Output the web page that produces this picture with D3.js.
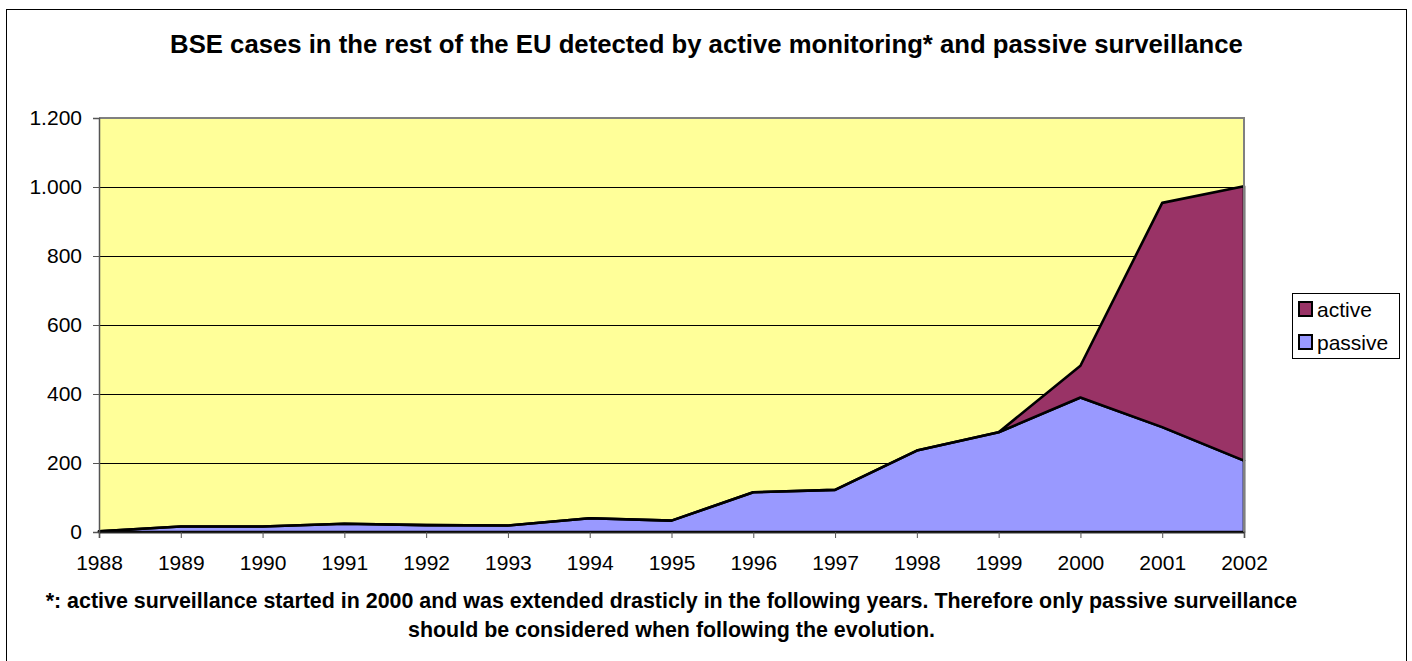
<!DOCTYPE html>
<html>
<head>
<meta charset="utf-8">
<script src="https://cdn.jsdelivr.net/npm/d3@7"></script>
<style>
  html, body { margin: 0; padding: 0; background: #fff; }
  svg { display: block; font-family: "Liberation Sans", Arial, sans-serif; }
</style>
</head>
<body>
<div id="chart"></div>
<script>
// values
var years = [1988, 1989, 1990, 1991, 1992, 1993, 1994, 1995, 1996, 1997, 1998, 1999, 2000, 2001, 2002];
var passive = [2, 16, 16, 24, 20, 19, 40, 33, 115, 122, 236, 289, 390, 304, 207];
var active = [0, 0, 0, 0, 0, 0, 0, 0, 0, 0, 0, 0, 92, 650, 795];
var yTicks = [0, 200, 400, 600, 800, 1000, 1200];
var seriesNames = ["passive", "active"];
var seriesColors = { passive: "#9999FF", active: "#993366" };

var title = "BSE cases in the rest of the EU detected by active monitoring* and passive surveillance";
var footnote = [
  "*: active surveillance started in 2000 and was extended drasticly in the following years. Therefore only passive surveillance",
  "should be considered when following the evolution."
];

var W = 1412, H = 661;
var plot = { left: 99, right: 1244, top: 118, bottom: 532 };
var font = "'Liberation Sans', Arial, sans-serif";

var svg = d3.select("#chart").append("svg")
  .attr("width", W).attr("height", H);

// outer chart border (bottom runs off the picture)
svg.append("rect")
  .attr("x", 6.5).attr("y", 9.5)
  .attr("width", 1400).attr("height", 700)
  .attr("fill", "#fff").attr("stroke", "#000").attr("stroke-width", 1);

var x = d3.scaleLinear().domain([years[0], years[years.length - 1]]).range([plot.left, plot.right]);
var y = d3.scaleLinear().domain([0, 1200]).range([plot.bottom, plot.top]);

// plot background
svg.append("rect")
  .attr("x", plot.left).attr("y", plot.top)
  .attr("width", plot.right - plot.left).attr("height", plot.bottom - plot.top)
  .attr("fill", "#FFFF99");

// gridlines
svg.append("g").selectAll("line").data(yTicks.filter(function (d) { return d > 0 && d < 1200; }))
  .join("line")
  .attr("x1", plot.left).attr("x2", plot.right)
  .attr("y1", function (d) { return Math.round(y(d)) + 0.5; })
  .attr("y2", function (d) { return Math.round(y(d)) + 0.5; })
  .attr("stroke", "#000").attr("stroke-width", 1);

// stacked areas
var rows = years.map(function (yr, i) { return { year: yr, passive: passive[i], active: active[i] }; });
var layers = d3.stack().keys(seriesNames)(rows);

var area = d3.area()
  .x(function (d) { return x(d.data.year); })
  .y0(function (d) { return y(d[0]); })
  .y1(function (d) { return y(d[1]); });

svg.append("g").selectAll("path").data(layers)
  .join("path")
  .attr("d", area)
  .attr("fill", function (d) { return seriesColors[d.key]; })
  .attr("stroke", "#000")
  .attr("stroke-width", 2.6)
  .attr("stroke-linejoin", "round");

// plot frame (top/right grey)
svg.append("path")
  .attr("d", "M" + plot.left + "," + plot.top + "H" + plot.right + "V" + plot.bottom)
  .attr("fill", "none").attr("stroke", "#808080").attr("stroke-width", 2);

// y axis
var yAxis = svg.append("g").attr("transform", "translate(" + plot.left + ",0)")
  .call(d3.axisLeft(y).tickValues(yTicks).tickSize(6).tickPadding(11)
    .tickFormat(function (d) { return d3.format(",")(d).replace(/,/g, "."); }));
yAxis.select(".domain").attr("stroke", "#555").attr("stroke-width", 1.5);
yAxis.selectAll(".tick line").attr("stroke", "#555");
yAxis.selectAll("text").attr("font-size", 21).attr("fill", "#000").attr("font-family", font);

// x axis
var xAxis = svg.append("g").attr("transform", "translate(0," + plot.bottom + ")")
  .call(d3.axisBottom(x).tickValues(years).tickSize(6).tickPadding(17).tickFormat(d3.format("d")));
xAxis.select(".domain").attr("stroke", "#222").attr("stroke-width", 1.5);
xAxis.selectAll(".tick line").attr("stroke", "#555");
xAxis.selectAll("text").attr("font-size", 21).attr("fill", "#000").attr("font-family", font);

// fit a text element to a target width by adjusting its font size
function fitWidth(sel, target) {
  var fs = +sel.attr("font-size");
  var w = sel.node().getComputedTextLength();
  if (w > 0) sel.attr("font-size", (fs * target / w).toFixed(2));
  return +sel.attr("font-size");
}

// title
var titleText = svg.append("text")
  .attr("x", 706.5).attr("y", 53)
  .attr("text-anchor", "middle")
  .attr("font-size", 24).attr("font-weight", "bold")
  .text(title);
fitWidth(titleText, 1073);

// footnote (category axis title)
var foot = svg.append("g").selectAll("text").data(footnote)
  .join("text")
  .attr("x", (plot.left + plot.right) / 2)
  .attr("y", function (d, i) { return 608 + i * 29; })
  .attr("text-anchor", "middle")
  .attr("font-size", 20).attr("font-weight", "bold")
  .text(function (d) { return d; });
var footSize = fitWidth(d3.select(foot.nodes()[0]), 1252);
foot.attr("font-size", footSize);

// legend
var legend = svg.append("g").attr("transform", "translate(1292,293)");
legend.append("rect")
  .attr("x", 0.5).attr("y", 0.5).attr("width", 107).attr("height", 65)
  .attr("fill", "#fff").attr("stroke", "#000").attr("stroke-width", 1);
var legendItems = legend.selectAll("g.item").data(["active", "passive"])
  .join("g").attr("class", "item")
  .attr("transform", function (d, i) { return "translate(0," + (i * 33) + ")"; });
legendItems.append("rect")
  .attr("x", 7).attr("y", 9).attr("width", 13).attr("height", 14)
  .attr("fill", function (d) { return seriesColors[d]; })
  .attr("stroke", "#000").attr("stroke-width", 2);
legendItems.append("text")
  .attr("x", 25).attr("y", 24)
  .attr("font-size", 21)
  .text(function (d) { return d; });
</script>
</body>
</html>
